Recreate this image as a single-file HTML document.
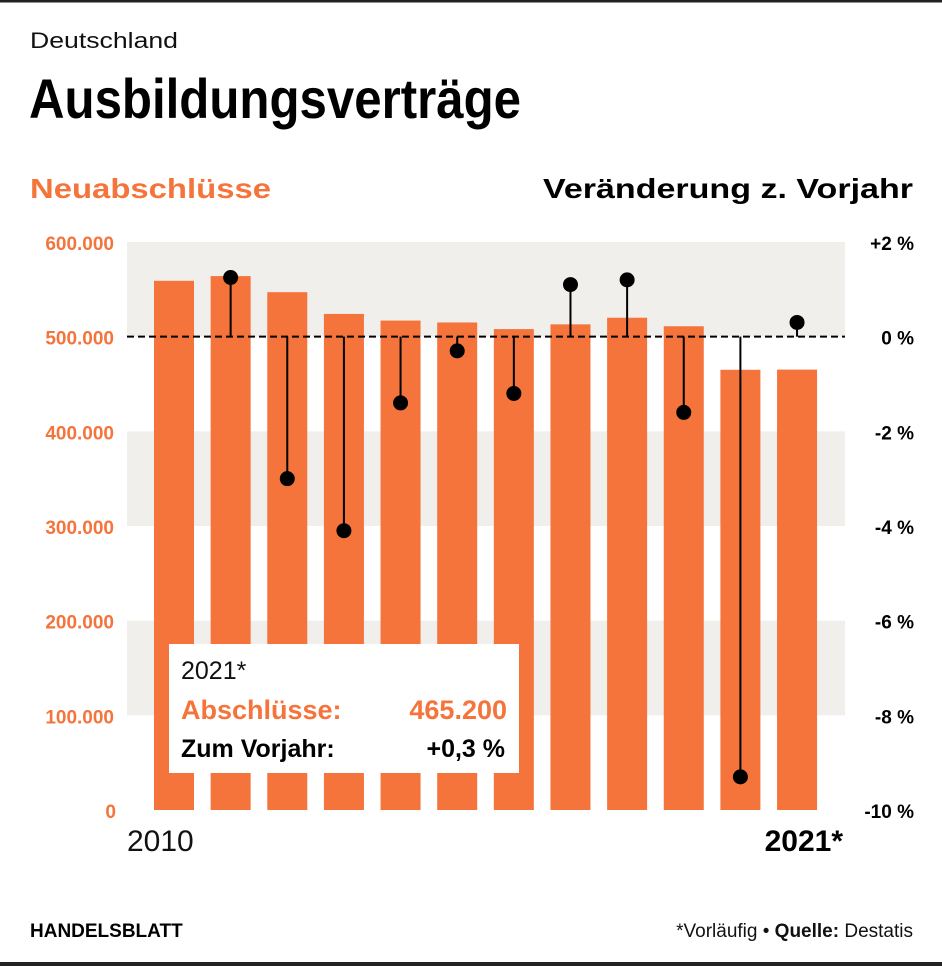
<!DOCTYPE html>
<html><head><meta charset="utf-8"><style>
html,body{margin:0;padding:0;background:#fff;}
svg{display:block;font-family:"Liberation Sans",sans-serif;}
</style></head><body>
<svg id="chart" width="942" height="966" viewBox="0 0 942 966" xmlns="http://www.w3.org/2000/svg">
<rect x="0" y="0" width="942" height="2.5" fill="#222"/>
<rect x="0" y="962" width="942" height="4" fill="#222"/>
<text x="30" y="48" font-size="22" fill="#111" textLength="148" lengthAdjust="spacingAndGlyphs">Deutschland</text>
<text x="29" y="118" font-size="56" font-weight="bold" fill="#000" textLength="492" lengthAdjust="spacingAndGlyphs">Ausbildungsverträge</text>
<text x="30" y="198" font-size="28" font-weight="bold" fill="#f4743b" textLength="241" lengthAdjust="spacingAndGlyphs">Neuabschlüsse</text>
<text x="913" y="198" font-size="28" font-weight="bold" fill="#000" text-anchor="end" textLength="370" lengthAdjust="spacingAndGlyphs">Veränderung z. Vorjahr</text>
<g id="bands"></g><g id="bars"></g><g id="zero"></g><g id="lollis"></g><g id="ticks"></g>
<g>
<rect x="169" y="644" width="350" height="129" fill="#fff"/>
<text x="181" y="679" font-size="25" fill="#111">2021*</text>
<text x="181" y="719" font-size="27" font-weight="bold" fill="#f4743b">Abschlüsse:</text>
<text x="507" y="719" font-size="27" font-weight="bold" fill="#f4743b" text-anchor="end">465.200</text>
<text x="181" y="757" font-size="25" font-weight="bold" fill="#000">Zum Vorjahr:</text>
<text x="505" y="757" font-size="25" font-weight="bold" fill="#000" text-anchor="end">+0,3 %</text>
</g>
<text x="127" y="851" font-size="30" fill="#111">2010</text>
<text x="843" y="851" font-size="30" font-weight="bold" fill="#000" text-anchor="end">2021*</text>
<text x="30" y="937" font-size="19" font-weight="bold" fill="#000">HANDELSBLATT</text>
<text x="913" y="937" font-size="19" fill="#111" text-anchor="end">*Vorläufig • <tspan font-weight="bold">Quelle:</tspan> Destatis</text>
</svg>
<script>
const years=[2010,2011,2012,2013,2014,2015,2016,2017,2018,2019,2020,2021];
const contracts=[559000,564000,547000,524000,517000,515000,508000,513000,520000,511000,465000,465200];
const changes=[null,1.25,-3.0,-4.1,-1.4,-0.3,-1.2,1.1,1.2,-1.6,-9.3,0.3];
const leftTicks=[0,100000,200000,300000,400000,500000,600000];
const leftLabels=["0","100.000","200.000","300.000","400.000","500.000","600.000"];
const rightTicks=[-10,-8,-6,-4,-2,0,2];
const rightLabels=["-10 %","-8 %","-6 %","-4 %","-2 %","0 %","+2 %"];
const NS="http://www.w3.org/2000/svg";
const X0=127,X1=845,YB=810,YT=242;
const yL=v=>YB-(v/600000)*(YB-YT);
const yR=p=>YB-((p+10)/12)*(YB-YT);
const xC=i=>174+i*56.64;
function mk(t,a,p){const e=document.createElementNS(NS,t);for(const k in a)e.setAttribute(k,a[k]);document.getElementById(p).appendChild(e);return e;}
for(let i=0;i<6;i+=2){
 const b=mk('rect',{x:X0,y:yL(leftTicks[6-i]),width:X1-X0,height:yL(leftTicks[5-i])-yL(leftTicks[6-i]),fill:'#f0efec'},'bands');
 
 
}
contracts.forEach((v,i)=>{
 const r=mk('rect',{x:xC(i)-20,y:yL(v),width:40,height:YB-yL(v),fill:'#f4743b'},'bars');
 
 
});
const z=mk('line',{x1:X0,x2:X1,y1:yR(0),y2:yR(0),stroke:'#000','stroke-width':2,'stroke-dasharray':'7,4'},'zero');


changes.forEach((c,i)=>{
 if(c===null)return;
 const l=mk('line',{x1:xC(i),x2:xC(i),y1:yR(0),y2:yR(c),stroke:'#000','stroke-width':2},'lollis');
 
 
 const d=mk('circle',{cx:xC(i),cy:yR(c),r:7.5,fill:'#000'},'lollis');
 
 
});
leftTicks.forEach((v,i)=>{
 const t=mk('text',{x:i===0?116:114,y:yL(v)+8,'font-size':19,'font-weight':'bold',fill:'#f4743b','text-anchor':'end'},'ticks');
 t.textContent=leftLabels[i];
 
 
});
rightTicks.forEach((v,i)=>{
 const t=mk('text',{x:914,y:yR(v)+8,'font-size':19,'font-weight':'bold',fill:'#000','text-anchor':'end'},'ticks');
 t.textContent=rightLabels[i];
 
 
});
</script>
</body></html>
